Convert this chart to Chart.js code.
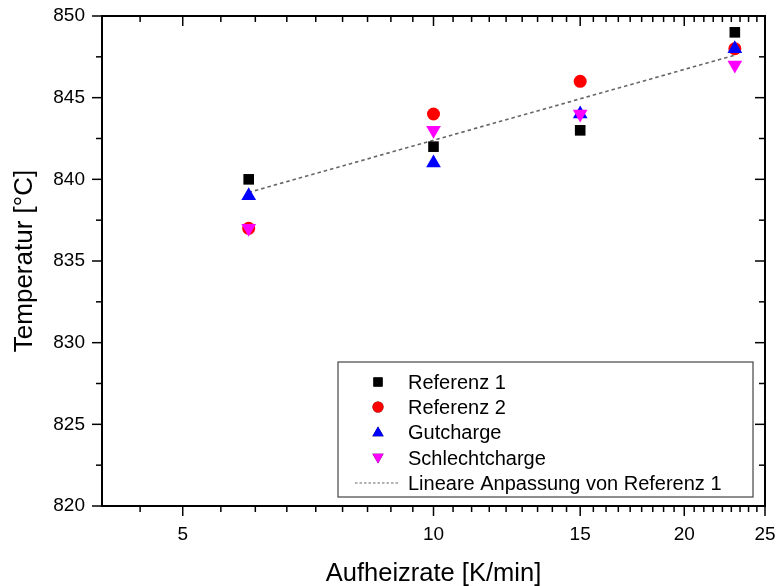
<!DOCTYPE html>
<html>
<head>
<meta charset="utf-8">
<script src="https://cdn.jsdelivr.net/npm/chart.js@4.4.1/dist/chart.umd.min.js"></script>
<style>
    html, body { margin: 0; padding: 0; background: #fff; }
</style>
</head>
<body>
<canvas id="myChart" width="779" height="586"></canvas>
<script>
// heating rates [K/min]
const rates = [6, 10, 15, 23];

// temperatures [°C]
const referenz1 = [840, 842, 843, 849];
const referenz2 = [837, 844, 846, 848];
const gutcharge = [839, 841, 844, 848];
const schlechtcharge = [837, 843, 844, 847];

// linear fit of Referenz 1 (end points)
const fitRates = [6, 23];
const fitValues = [839.2, 847.6];

const xTickLabels = [5, 10, 15, 20, 25];
const yTickLabels = [820, 825, 830, 835, 840, 845, 850];

const seriesNames = ['Referenz 1', 'Referenz 2', 'Gutcharge', 'Schlechtcharge', 'Lineare Anpassung von Referenz 1'];

document.addEventListener('DOMContentLoaded', () => {
    const ctx = document.getElementById('myChart').getContext('2d');
    const fontFamily = '"Liberation Sans", Arial, sans-serif';

    const toPoints = (xs, ys) => xs.map((x, i) => ({ x: x, y: ys[i] }));

    const datasets = [
        {
            label: seriesNames[0],
            data: toPoints(rates, referenz1),
            pointStyle: 'rect',
            pointRadius: 7.5,
            backgroundColor: '#000000',
            borderColor: '#000000',
            pointBorderWidth: 0,
            order: 3,
        },
        {
            label: seriesNames[1],
            data: toPoints(rates, referenz2),
            pointStyle: 'circle',
            pointRadius: 6.5,
            backgroundColor: '#ff0000',
            borderColor: '#ff0000',
            pointBorderWidth: 0,
            order: 2,
        },
        {
            label: seriesNames[2],
            data: toPoints(rates, gutcharge),
            pointStyle: 'triangle',
            pointRadius: 8.5,
            backgroundColor: '#0000ff',
            borderColor: '#0000ff',
            pointBorderWidth: 0,
            order: 1,
        },
        {
            label: seriesNames[3],
            data: toPoints(rates, schlechtcharge),
            pointStyle: 'triangle',
            rotation: 180,
            pointRadius: 8.5,
            backgroundColor: '#ff00ff',
            borderColor: '#ff00ff',
            pointBorderWidth: 0,
            order: 0,
        },
        {
            label: seriesNames[4],
            data: toPoints(fitRates, fitValues),
            showLine: true,
            pointRadius: 0,
            borderColor: '#666666',
            borderWidth: 1.6,
            borderDash: [3.5, 3],
            order: 4,
        },
    ];

    // ticks, frame and legend in the style of the original plot
    const framePlugin = {
        id: 'frame',
        afterDraw(chart) {
            const c = chart.ctx;
            const area = chart.chartArea;
            const xs = chart.scales.x;
            const ys = chart.scales.y;
            c.save();
            c.strokeStyle = '#000';
            c.lineWidth = 2;
            c.strokeRect(area.left, area.top, area.right - area.left, area.bottom - area.top);

            c.lineWidth = 1.5;
            const tick = (x1, y1, x2, y2) => {
                c.beginPath();
                c.moveTo(x1, y1);
                c.lineTo(x2, y2);
                c.stroke();
            };

            // x: majors plus 8 minors between each pair of majors
            for (let i = 0; i < xTickLabels.length; i++) {
                const px = xs.getPixelForValue(xTickLabels[i]);
                tick(px, area.bottom, px, area.bottom + 10);
                tick(px, area.top, px, area.top + 10);
            }
            const xMinor = [4.4444];
            for (let i = 0; i < xTickLabels.length - 1; i++) {
                const a = xTickLabels[i];
                const step = (xTickLabels[i + 1] - a) / 9;
                for (let k = 1; k < 9; k++) xMinor.push(a + k * step);
            }
            xMinor.forEach(v => {
                const px = xs.getPixelForValue(v);
                tick(px, area.bottom, px, area.bottom + 6);
                tick(px, area.top, px, area.top + 6);
            });

            yTickLabels.forEach((v, i) => {
                const py = ys.getPixelForValue(v);
                tick(area.left - 10, py, area.left, py);
                tick(area.right - 10, py, area.right, py);
                if (i < yTickLabels.length - 1) {
                    const pm = ys.getPixelForValue(v + 2.5);
                    tick(area.left - 6, pm, area.left, pm);
                    tick(area.right - 6, pm, area.right, pm);
                }
            });

            // legend box
            const box = { left: 338, top: 362, right: 753, bottom: 497 };
            c.lineWidth = 1.2;
            c.strokeStyle = '#444';
            c.strokeRect(box.left, box.top, box.right - box.left, box.bottom - box.top);

            c.font = '20px ' + fontFamily;
            c.fillStyle = '#000';
            c.textBaseline = 'middle';
            c.textAlign = 'left';
            const rowY = [382, 407, 432, 458, 483];
            const sizes = [6.5, 5.5, 6.5, 6.5];
            datasets.forEach((ds, i) => {
                const y = rowY[i];
                if (i < 4) {
                    Chart.helpers.drawPoint(c, {
                        pointStyle: ds.pointStyle,
                        rotation: ds.rotation || 0,
                        radius: sizes[i],
                        borderWidth: 0,
                    }, 378, y + (ds.pointStyle === 'triangle' ? (ds.rotation ? -1 : 1) : 0));
                    c.fillStyle = ds.backgroundColor;
                    c.fill();
                } else {
                    c.save();
                    c.strokeStyle = ds.borderColor;
                    c.lineWidth = 1.2;
                    c.setLineDash([2.5, 2]);
                    tick(355, y, 400, y);
                    c.restore();
                }
                c.fillStyle = '#000';
                c.fillText(ds.label, 408, y + 1);
            });
            c.restore();
        },
    };

    const config = {
        type: 'scatter',
        data: { datasets: datasets },
        options: {
            responsive: false,
            animation: false,
            layout: {
                padding: { top: 16, right: 14, left: 0, bottom: 0 },
            },
            plugins: {
                legend: { display: false },
                tooltip: { enabled: false },
            },
            scales: {
                x: {
                    type: 'logarithmic',
                    min: 4,
                    max: 25,
                    afterBuildTicks: (scale) => {
                        scale.ticks = xTickLabels.map(v => ({ value: v }));
                    },
                    afterFit: (scale) => {
                        scale.height = 80;
                        scale.paddingLeft = 0;
                        scale.paddingRight = 0;
                    },
                    grid: { display: false },
                    border: { display: false },
                    ticks: {
                        autoSkip: false,
                        maxRotation: 0,
                        padding: 9,
                        color: '#000',
                        font: { family: fontFamily, size: 19 },
                        callback: (v) => String(v),
                    },
                    title: {
                        display: true,
                        text: 'Aufheizrate [K/min]',
                        color: '#000',
                        font: { family: fontFamily, size: 25.5 },
                        padding: { top: 0, bottom: -3 },
                    },
                },
                y: {
                    type: 'linear',
                    min: 820,
                    max: 850,
                    afterBuildTicks: (scale) => {
                        scale.ticks = yTickLabels.map(v => ({ value: v }));
                    },
                    afterFit: (scale) => {
                        scale.width = 102;
                        scale.paddingTop = 0;
                        scale.paddingBottom = 0;
                    },
                    grid: { display: false },
                    border: { display: false },
                    ticks: {
                        padding: 9,
                        color: '#000',
                        font: { family: fontFamily, size: 19 },
                    },
                    title: {
                        display: true,
                        text: 'Temperatur [°C]',
                        color: '#000',
                        font: { family: fontFamily, size: 26 },
                        padding: { top: 9, bottom: 0 },
                    },
                },
            },
        },
        plugins: [framePlugin],
    };

    const myChart = new Chart(ctx, config);
});
</script>
</body>
</html>
